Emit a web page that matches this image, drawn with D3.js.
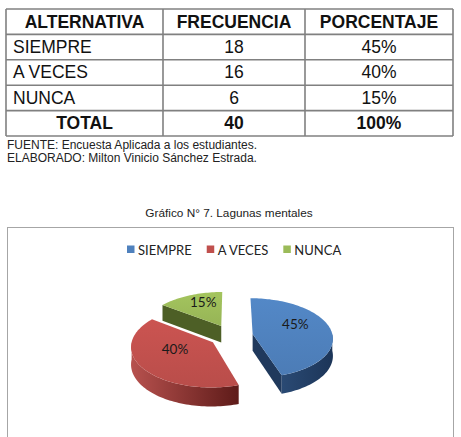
<!DOCTYPE html>
<html lang="es">
<head>
<meta charset="UTF-8">
<title>Lagunas mentales</title>
<script src="https://d3js.org/d3.v7.min.js"></script>
<style>
  body { margin: 0; background: #fff; }
  svg { display: block; }
</style>
</head>
<body>
<div id="chart"></div>
<script>
// data
var headers = ["ALTERNATIVA", "FRECUENCIA", "PORCENTAJE"];
var categories = ["SIEMPRE", "A VECES", "NUNCA"];
var frequencies = [18, 16, 6];
var percentages = ["45%", "40%", "15%"];
var totalRow = ["TOTAL", "40", "100%"];
var notes = ["FUENTE: Encuesta Aplicada a los estudiantes.",
             "ELABORADO: Milton Vinicio Sánchez Estrada."];
var chartTitle = "Gráfico N° 7. Lagunas mentales";

var W = 461, H = 437;
var svg = d3.select("#chart").append("svg")
    .attr("width", W).attr("height", H);
svg.append("rect").attr("width", W).attr("height", H).attr("fill", "#fff");

// ---------- table ----------
var tableFont = "'Liberation Sans', Arial, sans-serif";
var colX = d3.scaleOrdinal().domain([0, 1, 2, 3]).range([6, 163, 305, 453]);
var rowY = d3.scaleLinear().domain([0, 5]).range([9, 136]);
var rows = [headers].concat(categories.map(function(c, i) {
  return [c, String(frequencies[i]), percentages[i]];
})).concat([totalRow]);

var table = svg.append("g");
// grid lines
d3.range(6).forEach(function(r) {
  table.append("line")
    .attr("x1", colX(0)).attr("x2", colX(3))
    .attr("y1", rowY(r)).attr("y2", rowY(r))
    .attr("stroke", "#808080").attr("stroke-width", 1.6);
});
d3.range(4).forEach(function(c) {
  table.append("line")
    .attr("x1", colX(c)).attr("x2", colX(c))
    .attr("y1", rowY(0)).attr("y2", rowY(5))
    .attr("stroke", "#808080").attr("stroke-width", 1.6);
});
rows.forEach(function(row, r) {
  var bold = (r === 0 || r === rows.length - 1);
  row.forEach(function(txt, c) {
    var leftAlign = (c === 0 && !bold);
    table.append("text")
      .attr("x", leftAlign ? colX(0) + 7 : (colX(c) + colX(c + 1)) / 2)
      .attr("y", rowY(r) + 18.5)
      .attr("text-anchor", leftAlign ? "start" : "middle")
      .attr("font-family", tableFont)
      .attr("font-size", 17.5)
      .attr("font-weight", bold ? "bold" : "normal")
      .attr("fill", "#111")
      .text(txt);
  });
});

// notes under the table
svg.selectAll(".note").data(notes).enter().append("text")
  .attr("class", "note")
  .attr("x", 7)
  .attr("y", function(d, i) { return 149 + i * 13; })
  .attr("font-family", tableFont)
  .attr("font-size", 12)
  .attr("fill", "#222")
  .text(function(d) { return d; });

svg.append("text")
  .attr("x", 229).attr("y", 217)
  .attr("text-anchor", "middle")
  .attr("font-family", tableFont)
  .attr("font-size", 11.8)
  .attr("fill", "#222")
  .text(chartTitle);

// chart frame
svg.append("rect")
  .attr("x", 7.5).attr("y", 227.5)
  .attr("width", 446).attr("height", 230)
  .attr("fill", "#fff").attr("stroke", "#a6a6a6").attr("stroke-width", 1);

// ---------- legend ----------
var colors = ["#4f81bd", "#c0504d", "#9bbb59"];
var legendFont = "Lato, 'Open Sans', sans-serif";
var lg = svg.append("g");
var lx = 127;
categories.forEach(function(c, i) {
  lg.append("rect").attr("x", lx).attr("y", 245.5)
    .attr("width", 7.5).attr("height", 7.5).attr("fill", colors[i]);
  var t = lg.append("text").attr("x", lx + 11).attr("y", 254.5)
    .attr("font-family", legendFont).attr("font-size", 13)
    .attr("fill", "#222").text(c);
  lx += 11 + t.node().getComputedTextLength() + 15;
});

// ---------- 3D exploded pie ----------
var pie = d3.pie().sort(null).value(function(d) { return d; });
var arcs = pie(frequencies);
var total = d3.sum(frequencies);

var cx = 231, cy = 335.6, R = 80, sy = 0.5, depth = 17, explode = 22, persp = 0.1;
// project a point of the pie plane (x right, y toward viewer), dropped by h
function proj(x, y, h) {
  var k = 1 + persp * y / R;
  return [cx + x * k, cy + (y * sy + h) * k];
}
function rim(ox, oy, t, h) {
  return proj(ox + R * Math.sin(t), oy - R * Math.cos(t), h);
}
function samples(a0, a1) {
  var n = Math.max(2, Math.ceil((a1 - a0) / 0.03));
  return d3.range(n + 1).map(function(i) { return a0 + (a1 - a0) * i / n; });
}
var line = d3.line().curve(d3.curveLinearClosed);

var topCol = ["#4f81bd", "#c0504d", "#9bbb59"];
var wallCol = [["#2a4a74", "#1c3558"], ["#b7514e", "#5e1b19"], ["#53662b", "#44561f"]];
var cutCol = ["#20395c", "#8d2f2d", "#4d5f26"];

var defs = svg.append("defs");
arcs.forEach(function(a, i) {
  var g = defs.append("linearGradient").attr("id", "wall" + i)
    .attr("x1", "0%").attr("x2", "100%").attr("y1", "0%").attr("y2", "0%");
  g.append("stop").attr("offset", "0%").attr("stop-color", wallCol[i][0]);
  g.append("stop").attr("offset", "100%").attr("stop-color", wallCol[i][1]);
  var tg = defs.append("linearGradient").attr("id", "top" + i)
    .attr("x1", "0%").attr("x2", "0%").attr("y1", "0%").attr("y2", "100%");
  tg.append("stop").attr("offset", "0%").attr("stop-color", d3.color(topCol[i]).brighter(0.15));
  tg.append("stop").attr("offset", "100%").attr("stop-color", d3.color(topCol[i]).darker(0.1));
});

var pieG = svg.append("g");
// draw back slices first
var order = arcs.map(function(a, i) { return i; }).sort(function(p, q) {
  var mp = (arcs[p].startAngle + arcs[p].endAngle) / 2, mq = (arcs[q].startAngle + arcs[q].endAngle) / 2;
  return -Math.cos(mp) - -Math.cos(mq);
});

order.forEach(function(i) {
  var a = arcs[i];
  var a0 = a.startAngle, a1 = a.endAngle, mid = (a0 + a1) / 2;
  var ox = explode * Math.sin(mid), oy = -explode * Math.cos(mid);
  var g = pieG.append("g");

  // cut face at start angle
  if (Math.sin(a0) < -1e-6) {
    g.append("path").attr("fill", cutCol[i]).attr("d", line([
      proj(ox, oy, 0), rim(ox, oy, a0, 0), rim(ox, oy, a0, depth), proj(ox, oy, depth)]));
  }
  // cut face at end angle
  if (Math.sin(a1) > 1e-6) {
    g.append("path").attr("fill", cutCol[i]).attr("d", line([
      proj(ox, oy, 0), rim(ox, oy, a1, 0), rim(ox, oy, a1, depth), proj(ox, oy, depth)]));
  }
  // outer wall, front half only
  var w0 = Math.max(a0, Math.PI / 2), w1 = Math.min(a1, 3 * Math.PI / 2);
  if (w1 > w0) {
    var ts = samples(w0, w1);
    var pts = ts.map(function(t) { return rim(ox, oy, t, 0); })
      .concat(ts.slice().reverse().map(function(t) { return rim(ox, oy, t, depth); }));
    g.append("path").attr("fill", "url(#wall" + i + ")").attr("d", line(pts));
  }
  // top face
  var topPts = [proj(ox, oy, 0)].concat(samples(a0, a1).map(function(t) { return rim(ox, oy, t, 0); }));
  g.append("path").attr("fill", "url(#top" + i + ")").attr("d", line(topPts));

  // data label
  var lp = proj(ox + 0.55 * R * Math.sin(mid), oy - 0.55 * R * Math.cos(mid), -6);
  g.append("text")
    .attr("x", lp[0]).attr("y", lp[1] + 4.5)
    .attr("text-anchor", "middle")
    .attr("font-family", legendFont).attr("font-size", 13.5)
    .attr("fill", "#1a1a1a")
    .text(d3.format(".0%")(a.value / total));
});
</script>
</body>
</html>
